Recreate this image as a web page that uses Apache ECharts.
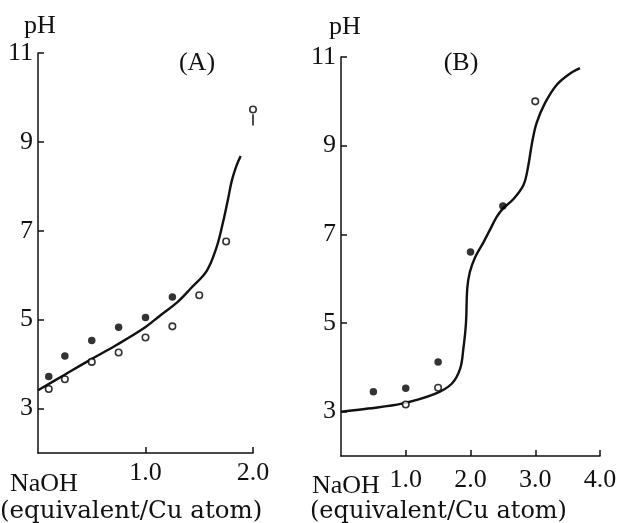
<!DOCTYPE html>
<html>
<head>
<meta charset="utf-8">
<script src="https://cdn.jsdelivr.net/npm/echarts@6/dist/echarts.min.js"></script>
<style>html,body{margin:0;padding:0;background:#fff}#c{width:620px;height:523px}</style>
</head>
<body>
<div id="c"></div>
<script>
// ---- data ----
var yTicks = [3, 5, 7, 9, 11];
var xTicksA = [1, 2];
var xTicksB = [1, 2, 3, 4];

var curveA = [[0,3.41],[0.24,3.75],[0.48,4.09],[0.73,4.43],[0.98,4.8],[1.14,5.1],[1.3,5.4],[1.42,5.7],[1.57,6.1],[1.66,6.62],[1.72,7.18],[1.77,7.74],[1.8,8.1],[1.84,8.42],[1.885,8.68]];
var filledA = [[0.1,3.72],[0.25,4.18],[0.5,4.53],[0.75,4.83],[1.0,5.05],[1.25,5.51]];
var openA = [[0.1,3.44],[0.25,3.66],[0.5,4.05],[0.75,4.26],[1.0,4.6],[1.25,4.85],[1.5,5.55],[1.75,6.76],[2.0,9.73]];
var barA = [[2.0,9.62],[2.0,9.37]];

var curveB = [[0,3.0],[0.42,3.07],[0.94,3.18],[1.45,3.4],[1.71,3.63],[1.84,3.97],[1.89,4.42],[1.93,5.0],[1.95,5.78],[1.99,6.15],[2.07,6.48],[2.2,6.82],[2.3,7.1],[2.4,7.38],[2.5,7.58],[2.66,7.79],[2.82,8.12],[2.89,8.53],[2.95,9.06],[3.02,9.51],[3.15,9.96],[3.33,10.37],[3.54,10.63],[3.69,10.75]];
var filledB = [[0.5,3.45],[1.0,3.53],[1.5,4.12],[2.0,6.6],[2.5,7.64]];
var openB = [[1.0,3.16],[1.5,3.54],[3.0,10.0]];

// ---- chart ----
var SERIF = '"Liberation Serif", "DejaVu Serif", serif';
var chart = echarts.init(document.getElementById('c'));

function xAxis(grid, max, ticks, margin) {
  return {
    type: 'value', gridIndex: grid, min: 0, max: max,
    axisLine: {show: true, lineStyle: {color: '#111', width: 1.5}},
    axisTick: {show: true, inside: true, length: 6, lineStyle: {color: '#111', width: 1.5}, customValues: ticks},
    axisLabel: {customValues: ticks, formatter: function (v) { return v.toFixed(1); },
      color: '#111', fontFamily: SERIF, fontSize: 26, margin: margin},
    splitLine: {show: false}
  };
}
function yAxis(grid) {
  return {
    type: 'value', gridIndex: grid, min: 2, max: 11,
    axisLine: {show: true, lineStyle: {color: '#111', width: 1.5}},
    axisTick: {show: true, inside: true, length: 6, lineStyle: {color: '#111', width: 1.5}, customValues: yTicks},
    axisLabel: {customValues: yTicks, color: '#111', fontFamily: SERIF, fontSize: 26, margin: 5},
    splitLine: {show: false}
  };
}
function curve(idx, data) {
  return {type: 'line', xAxisIndex: idx, yAxisIndex: idx, data: data, smooth: 0.35,
    showSymbol: false, symbol: 'none', lineStyle: {color: '#111', width: 2.4}, clip: false, z: 2};
}
function dots(idx, data, open) {
  return {type: 'scatter', xAxisIndex: idx, yAxisIndex: idx, data: data, symbol: 'circle',
    symbolSize: open ? 6.5 : 7.5, clip: false, z: 3,
    itemStyle: open ? {color: '#fff', borderColor: '#000', borderWidth: 1.6} : {color: '#000'}};
}
function txt(x, y, s, size, align, font) {
  return {type: 'text', x: x, y: y, style: {text: s, fill: '#111', font: size + 'px ' + (font || SERIF),
    textAlign: align || 'left', textVerticalAlign: 'middle'}};
}

chart.setOption({
  animation: false,
  backgroundColor: '#fff',
  grid: [
    {left: 38, top: 53, width: 215, height: 400},
    {left: 341, top: 57, width: 259, height: 399}
  ],
  xAxis: [xAxis(0, 2, xTicksA, 7), xAxis(1, 4, xTicksB, 11)],
  yAxis: [yAxis(0), yAxis(1)],
  series: [
    curve(0, curveA), dots(0, filledA, false), dots(0, openA, true),
    {type: 'line', xAxisIndex: 0, yAxisIndex: 0, data: barA, showSymbol: false, symbol: 'none',
      lineStyle: {color: '#111', width: 1.5}, clip: false},
    curve(1, curveB), dots(1, filledB, false), dots(1, openB, true)
  ],
  graphic: [
    txt(40, 26, 'pH', 26, 'center'),
    txt(197, 63, '(A)', 26, 'center'),
    txt(10, 484, 'NaOH', 26),
    txt(0, 512, '(equivalent/Cu atom)', 24.5, 'left', '"DejaVu Serif", serif'),
    txt(345, 27, 'pH', 26, 'center'),
    txt(461, 63, '(B)', 26, 'center'),
    txt(312, 486, 'NaOH', 26),
    txt(310, 512, '(equivalent/Cu atom)', 24, 'left', '"DejaVu Serif", serif')
  ]
});
</script>
</body>
</html>
